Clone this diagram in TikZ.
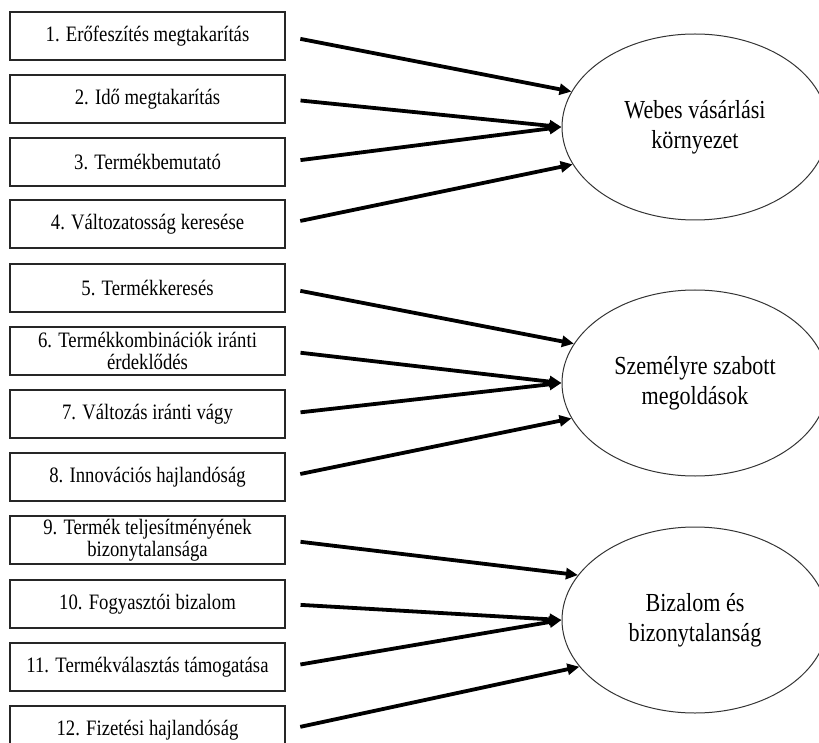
\documentclass[tikz,border=0pt]{standalone}
\usepackage{fontspec}
\setmainfont[FakeStretch=0.85]{Liberation Serif}
\usetikzlibrary{arrows.meta,shapes.geometric}

\begin{document}
\begin{tikzpicture}[
    x=1pt, y=-1pt,
    font=\fontsize{22}{22}\selectfont,
    every node/.style={align=center},
    box/.style={
        rectangle,
        draw=black!85,
        line width=1.2pt,
        minimum width=275pt,
        minimum height=48pt,
        inner sep=0pt
    },
    factor/.style={
        ellipse,
        draw=black!80,
        line width=1pt,
        minimum width=266pt,
        minimum height=186pt,
        inner sep=0pt,
        font=\fontsize{26}{30}\selectfont
    },
    line/.style={draw, line width=3.8pt, shorten <=15pt,
        -{Triangle[length=12pt,width=11pt]}},
]
\useasboundingbox (0,0) rectangle (819,743);

% Items
\node[box] (b1)  at (147.5,36)  {1. Erőfeszítés megtakarítás};
\node[box] (b2)  at (147.5,99)  {2. Idő megtakarítás};
\node[box] (b3)  at (147.5,162) {3. Termékbemutató};
\node[box] (b4)  at (147.5,224) {4. Változatosság keresése};

\node[box] (b5)  at (147.5,288) {5. Termékkeresés};
\node[box] (b6)  at (147.5,351) {6. Termékkombinációk iránti\\érdeklődés};
\node[box] (b7)  at (147.5,414) {7. Változás iránti vágy};
\node[box] (b8)  at (147.5,477) {8. Innovációs hajlandóság};

\node[box] (b9)  at (147.5,540) {9. Termék teljesítményének\\bizonytalansága};
\node[box] (b10) at (147.5,604) {10. Fogyasztói bizalom};
\node[box] (b11) at (147.5,667) {11. Termékválasztás támogatása};
\node[box] (b12) at (147.5,730) {12. Fizetési hajlandóság};

% Factors
\node[factor] (web)   at (695,127) {Webes vásárlási\\környezet};
\node[factor] (pers)  at (695,383) {Személyre szabott\\megoldások};
\node[factor] (trust) at (695,620) {Bizalom és\\bizonytalanság};

% Connections
\draw[line] (b1.east) -- (web.164);
\draw[line] (b2.east) -- (web.west);
\draw[line] (b3.east) -- (web.west);
\draw[line] (b4.east) -- (web.197);

\draw[line] (b5.east) -- (pers.162);
\draw[line] (b6.east) -- (pers.west);
\draw[line] (b7.east) -- (pers.west);
\draw[line] (b8.east) -- (pers.196);

\draw[line] (b9.east)  -- (trust.159);
\draw[line] (b10.east) -- (trust.west);
\draw[line] (b11.east) -- (trust.west);
\draw[line] (b12.east) -- (trust.202);

\end{tikzpicture}
\end{document}
